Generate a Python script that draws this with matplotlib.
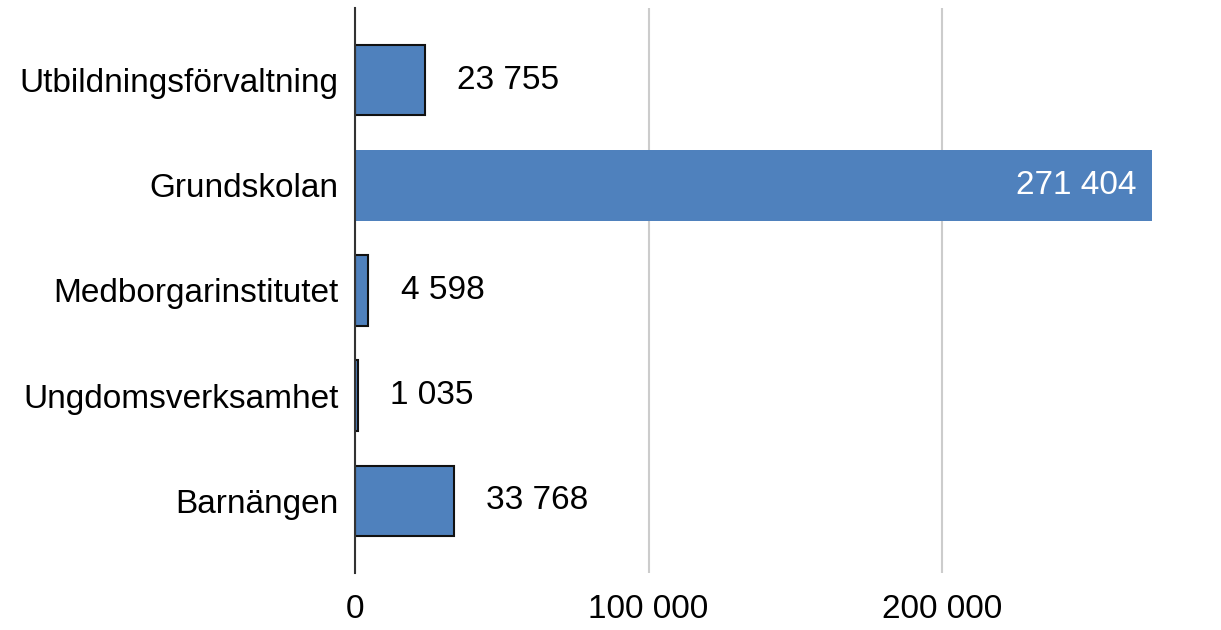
import matplotlib
matplotlib.use("Agg")
from matplotlib import pyplot as plt

categories = ["Utbildningsförvaltning", "Grundskolan", "Medborgarinstitutet", "Ungdomsverksamhet", "Barnängen"]
values = [23755, 271404, 4598, 1035, 33768]
ticks = [0, 100000, 200000]
tick_labels = ["0", "100 000", "200 000"]

plt.rcParams['font.family'] = ['Liberation Sans', 'DejaVu Sans']
fs = 24

fig = plt.figure(figsize=(12.21, 6.30), dpi=100)
ax = fig.add_axes([355/1221, 1-573/630, 1-355/1221, 565/630])

ypos = list(range(len(categories)))
for i, v in enumerate(values):
    big = v > 200000
    ax.barh(i, v, height=0.67, color="#4f81bd",
            edgecolor="none" if big else "#111111", linewidth=0 if big else 1.5, zorder=3)
    lbl = f"{v:,}".replace(",", " ")
    if big:
        ax.text(v - 5000, i, lbl, ha="right", va="center", fontsize=fs, color="white", zorder=4)
    else:
        ax.text(v + 11000, i, lbl, ha="left", va="center", fontsize=fs, color="black", zorder=4)

ax.set_xlim(0, (1221-355)/293.5*100000)
ax.set_ylim(len(categories)-1+0.686, -0.686)
ax.set_xticks(ticks)
ax.set_xticklabels(tick_labels)
ax.set_yticks(ypos)
ax.set_yticklabels(categories)
ax.tick_params(axis="both", length=0, labelsize=fs)
ax.tick_params(axis="x", pad=15)
ax.tick_params(axis="y", pad=12)
ax.xaxis.grid(True, color="#cccccc", linewidth=1.5, zorder=0)
ax.set_axisbelow(True)
for s in ["top", "right", "bottom"]:
    ax.spines[s].set_visible(False)
ax.spines["left"].set_color("#333333")
ax.spines["left"].set_linewidth(1.5)
ax.spines["left"].set_zorder(5)

fig.savefig("out.png", dpi=100)
